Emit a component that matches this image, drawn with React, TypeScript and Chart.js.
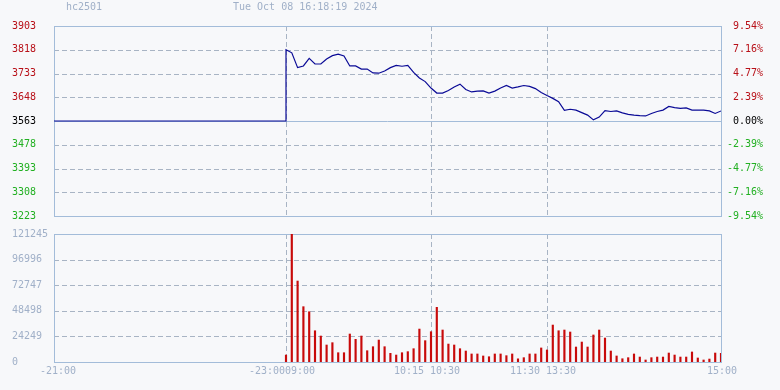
import React, { useEffect, useRef } from 'react';
import { Chart, registerables } from 'chart.js';

Chart.register(...registerables);

// ---------- data ----------
const symbol = 'hc2501';
const stamp = 'Tue Oct 08 16:18:19 2024';
const prevClose = 3563;
const priceTicks = [3903, 3818, 3733, 3648, 3563, 3478, 3393, 3308, 3223];
const pctLabels = ['9.54%', '7.16%', '4.77%', '2.39%', '0.00%', '-2.39%', '-4.77%', '-7.16%', '-9.54%'];
const volTicks = [121245, 96996, 72747, 48498, 24249, 0];

// trading minutes: night 21:00-23:00 (120), 09:00-10:15 (75), 10:30-11:30 (60), 13:30-15:00 (90)
const totalMinutes = 345;
const nightMinutes = 120;
const stepMinutes = 3;
const sessionBreaks = [120, 195, 255];
const xLabelPos = [0, 120, 195, 255, 345];
const xLabelText = ['-21:00', '-23:0009:00', '10:15 10:30', '11:30 13:30', '15:00'];

// day session, one value every 3 trading minutes from 09:00 to 15:00
const dayPrices = [
  3818, 3807, 3754, 3760, 3787, 3767, 3767, 3785, 3797, 3802,
  3796, 3760, 3760, 3749, 3749, 3735, 3734, 3742, 3754, 3762,
  3759, 3762, 3737, 3717, 3704, 3681, 3663, 3663, 3672, 3685,
  3695, 3676, 3667, 3670, 3671, 3663, 3670, 3681, 3690, 3681,
  3685, 3690, 3687, 3679, 3665, 3654, 3644, 3632, 3601, 3605,
  3602, 3593, 3584, 3567, 3577, 3600, 3597, 3599, 3592, 3587,
  3584, 3582, 3581, 3590, 3597, 3602, 3615, 3611, 3608, 3610,
  3602, 3602, 3602, 3599, 3590, 3599,
];
const dayVolumes = [
  6600, 121245, 76700, 52400, 47600, 29600, 24600, 16100, 18300, 8800,
  8800, 26500, 21500, 24600, 10700, 14500, 20800, 14500, 8200, 6600,
  8800, 9800, 12600, 31200, 20200, 28700, 51800, 30300, 17000, 16100,
  12600, 10400, 7600, 7600, 5700, 5000, 7600, 7600, 6000, 7600,
  3000, 4100, 7600, 7600, 13300, 11400, 35000, 29600, 30300, 28400,
  14200, 18900, 14200, 25600, 30300, 22700, 10400, 5700, 3100, 4100,
  7600, 4700, 1900, 4100, 4700, 4700, 8500, 6600, 4700, 4700,
  9500, 3800, 1900, 2800, 8500, 8200,
];

// ---------- styles ----------
const FONT = 'DejaVu Sans Mono';
const BG = '#f7f8fa';
const BORDER = '#a3bcd9';
const GRID = '#a8b4c4';
const MUTED = '#a0b0c8';
const UP = '#b81018';
const DOWN = '#22b022';
const LINE = '#0a0a96';
const BAR = '#c80a0a';

function priceColor(v: number) {
  if (v > prevClose) return UP;
  if (v < prevClose) return DOWN;
  return '#000000';
}

function gridPlugin(yTicks: number[], solidValue: number | null) {
  return {
    id: 'customGrid',
    beforeDatasetsDraw(chart: any) {
      const { ctx, chartArea: a, scales } = chart;
      const xs = scales.x;
      const ys = scales.y;
      ctx.save();
      ctx.lineWidth = 1;
      const seg = (x1: number, y1: number, x2: number, y2: number) => {
        ctx.beginPath();
        ctx.moveTo(x1, y1);
        ctx.lineTo(x2, y2);
        ctx.stroke();
      };
      yTicks.forEach((v) => {
        if (v === ys.max || v === ys.min) return;
        const py = Math.round(ys.getPixelForValue(v)) + 0.5;
        const solid = v === solidValue;
        ctx.strokeStyle = solid ? BORDER : GRID;
        ctx.setLineDash(solid ? [] : [5, 3]);
        seg(a.left, py, a.right, py);
      });
      ctx.strokeStyle = GRID;
      ctx.setLineDash([5, 3]);
      sessionBreaks.forEach((t) => {
        const px = Math.round(xs.getPixelForValue(t)) + 0.5;
        seg(px, a.top, px, a.bottom);
      });
      ctx.setLineDash([]);
      ctx.strokeStyle = BORDER;
      ctx.strokeRect(
        Math.round(a.left) + 0.5,
        Math.round(a.top) + 0.5,
        Math.round(a.right - a.left),
        Math.round(a.bottom - a.top)
      );
      ctx.restore();
    },
  };
}

const xLabelPlugin = {
  id: 'xLabels',
  afterDraw(chart: any) {
    const { ctx, scales, chartArea } = chart;
    const xs = scales.x;
    const shift = [4, -4, -4, -4, 1];
    ctx.save();
    ctx.font = `10px "${FONT}"`;
    ctx.fillStyle = MUTED;
    ctx.textAlign = 'center';
    ctx.textBaseline = 'middle';
    xLabelPos.forEach((t, i) => {
      ctx.fillText(xLabelText[i], xs.getPixelForValue(t) + shift[i], chartArea.bottom + 9);
    });
    ctx.restore();
  },
};

function dayMinute(k: number) {
  return nightMinutes + k * stepMinutes;
}

export default function App() {
  const priceRef = useRef<HTMLCanvasElement>(null);
  const volRef = useRef<HTMLCanvasElement>(null);

  useEffect(() => {
    const pricePoints = [
      { x: 0, y: prevClose },
      { x: nightMinutes, y: prevClose },
      ...dayPrices.map((p, k) => ({ x: dayMinute(k), y: p })),
    ];
    const volPoints = dayVolumes.map((v, k) => ({ x: dayMinute(k), y: v }));

    const tickFont = { family: FONT, size: 10 };

    const priceChart = new Chart(priceRef.current!, {
      type: 'line',
      data: {
        datasets: [
          {
            data: pricePoints,
            borderColor: LINE,
            borderWidth: 1.2,
            pointRadius: 0,
            tension: 0,
            fill: false,
            yAxisID: 'y',
          },
        ],
      },
      options: {
        responsive: false,
        animation: false,
        events: [],
        layout: { padding: { left: 12, right: 17, top: 26, bottom: 174 } },
        plugins: { legend: { display: false }, tooltip: { enabled: false } },
        scales: {
          x: { type: 'linear', min: 0, max: totalMinutes, display: false },
          y: {
            type: 'linear',
            position: 'left',
            min: priceTicks[priceTicks.length - 1],
            max: priceTicks[0],
            afterBuildTicks: (s: any) => {
              s.ticks = priceTicks.map((v) => ({ value: v }));
            },
            afterFit: (s: any) => {
              s.width = 42;
            },
            grid: { display: false },
            border: { display: false },
            ticks: {
              crossAlign: 'far',
              font: tickFont,
              color: (c: any) => priceColor(c.tick.value),
              callback: (v: any) => String(v),
            },
          },
          y2: {
            type: 'linear',
            position: 'right',
            min: priceTicks[priceTicks.length - 1],
            max: priceTicks[0],
            afterBuildTicks: (s: any) => {
              s.ticks = priceTicks.map((v) => ({ value: v }));
            },
            afterFit: (s: any) => {
              s.width = 42;
            },
            grid: { display: false },
            border: { display: false },
            ticks: {
              crossAlign: 'far',
              font: tickFont,
              color: (c: any) => priceColor(c.tick.value),
              callback: (v: any) => pctLabels[priceTicks.indexOf(v)],
            },
          },
        },
      } as any,
      plugins: [gridPlugin(priceTicks, prevClose)],
    });

    const volChart = new Chart(volRef.current!, {
      type: 'bar',
      data: {
        datasets: [
          {
            data: volPoints,
            backgroundColor: BAR,
            borderWidth: 0,
            barThickness: 1.5,
          },
        ],
      },
      options: {
        responsive: false,
        animation: false,
        events: [],
        layout: { padding: { left: 12, right: 59, top: 234, bottom: 28 } },
        plugins: { legend: { display: false }, tooltip: { enabled: false } },
        scales: {
          x: { type: 'linear', min: 0, max: totalMinutes, display: false, offset: false },
          y: {
            type: 'linear',
            position: 'left',
            min: 0,
            max: volTicks[0],
            afterBuildTicks: (s: any) => {
              s.ticks = volTicks.map((v) => ({ value: v }));
            },
            afterFit: (s: any) => {
              s.width = 42;
            },
            grid: { display: false },
            border: { display: false },
            ticks: {
              crossAlign: 'far',
              font: tickFont,
              color: MUTED,
              callback: (v: any) => String(v),
            },
          },
        },
      } as any,
      plugins: [gridPlugin(volTicks, null), xLabelPlugin],
    });

    return () => {
      priceChart.destroy();
      volChart.destroy();
    };
  }, []);

  const headStyle: React.CSSProperties = {
    position: 'absolute',
    top: 1,
    font: `10px "${FONT}"`,
    lineHeight: '12px',
    color: MUTED,
    whiteSpace: 'pre',
  };

  return (
    <div
      style={{
        position: 'fixed',
        left: 0,
        top: 0,
        width: 780,
        height: 390,
        background: BG,
        overflow: 'hidden',
      }}
    >
      <canvas ref={priceRef} width={780} height={390} style={{ position: 'absolute', left: 0, top: 0 }} />
      <canvas ref={volRef} width={780} height={390} style={{ position: 'absolute', left: 0, top: 0 }} />
      <div style={{ ...headStyle, left: 66 }}>{symbol}</div>
      <div style={{ ...headStyle, left: 233 }}>{stamp}</div>
    </div>
  );
}
